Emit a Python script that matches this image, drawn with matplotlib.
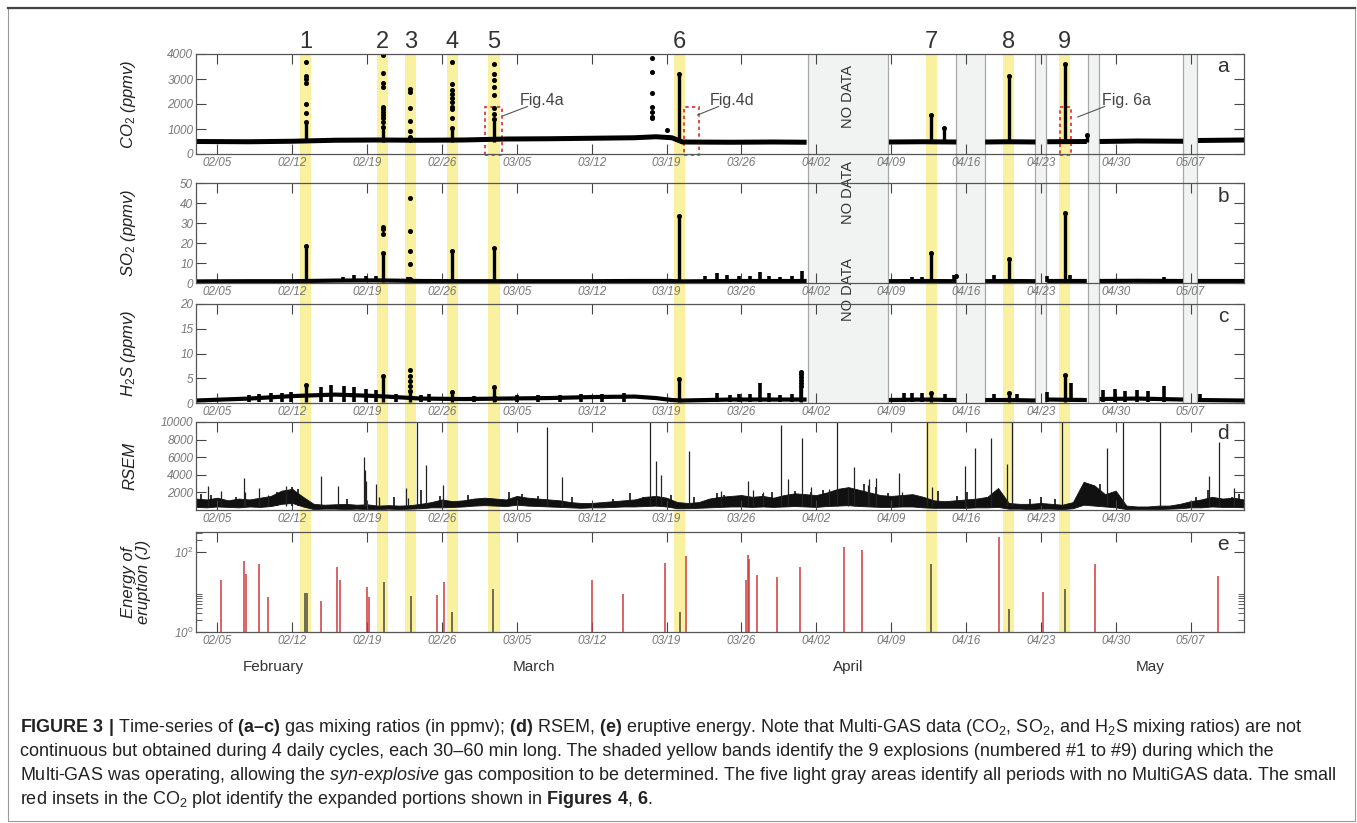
import numpy as np
import pandas as pd
import matplotlib
matplotlib.use("Agg")
import matplotlib.pyplot as plt
import matplotlib.dates as mdates
from matplotlib.patches import Rectangle
from matplotlib.lines import Line2D
from matplotlib.ticker import NullFormatter

plt.rcParams["font.family"] = ["Liberation Sans", "DejaVu Sans"]
plt.rcParams["mathtext.fontset"] = "custom"
plt.rcParams["mathtext.rm"] = "Liberation Sans"
plt.rcParams["mathtext.it"] = "Liberation Sans:italic"
plt.rcParams["mathtext.bf"] = "Liberation Sans:bold"

YEAR = 2015
nan = np.nan

# ---- data (dates as "MM/DD.fraction-of-day") ----
week_t = ["02/05", "02/12", "02/19", "02/26", "03/05", "03/12", "03/19",
          "03/26", "04/02", "04/09", "04/16", "04/23", "04/30", "05/07"]
band_t = ["02/13.28", "02/20.48", "02/23.05", "02/26.98", "03/02.87",
          "03/20.2", "04/12.74", "04/20.0", "04/25.24"]
nodata_start = ["04/01.2", "04/15.1", "04/22.5", "04/27.4", "05/06.3"]
nodata_end = ["04/08.7", "04/17.8", "04/23.5", "04/28.4", "05/07.6"]

gas_t = ["02/03", "02/08", "02/12", "02/16", "02/20", "02/24", "02/28", "03/04",
         "03/08", "03/12", "03/16", "03/18", "03/19.5", "03/20.5", "03/25", "03/29",
         "04/01.1", "04/01.2", "04/08.8", "04/12", "04/15.1", "04/15.2", "04/17.8",
         "04/20", "04/22.5", "04/22.6", "04/23.6", "04/27.3", "04/27.4", "04/28.5",
         "05/02", "05/06.3", "05/06.4", "05/07.7", "05/12"]
co2_base = [500, 490, 510, 550, 560, 550, 560, 600, 610, 630, 650, 690, 650, 480, 470,
            480, 470, nan, 480, 490, 480, nan, 480, 490, 480, nan, 490, 500, nan, 500,
            520, 510, nan, 540, 560]
so2_base = [0.8, 0.9, 0.9, 1.2, 1.3, 1.0, 0.9, 0.9, 0.9, 0.9, 1.0, 1.0, 1.0, 0.8, 1.0,
            1.0, 1.0, nan, 0.9, 1.0, 0.9, nan, 0.9, 1.0, 0.9, nan, 1.0, 1.0, nan, 1.0,
            1.1, 1.0, nan, 1.0, 1.0]
h2s_base = [0.5, 0.9, 1.4, 1.7, 1.4, 0.9, 0.8, 0.9, 1.0, 1.2, 1.3, 1.0, 0.6, 0.5, 0.7,
            0.7, 0.7, nan, 0.6, 0.7, 0.6, nan, 0.6, 0.6, 0.5, nan, 0.7, 0.6, nan, 0.8,
            0.9, 0.7, nan, 0.6, 0.5]

so2_bump_t = ["02/16.7", "02/17.8", "02/18.9", "02/19.8", "02/22.8", "02/24.8", "03/22.6",
              "03/23.7", "03/24.7", "03/25.8", "03/26.8", "03/27.7", "03/28.6", "03/29.6",
              "03/30.7", "03/31.7", "04/10.2", "04/11.0", "04/11.9", "04/14.0", "04/14.9",
              "04/18.6", "04/20.8", "04/23.6", "04/25.7", "04/28.8", "04/29.9", "05/01",
              "05/02", "05/03", "05/04.5", "05/05.7"]
so2_bump_v = [2.9, 3.9, 3.4, 3.4, 2.9, 2.2, 3.4, 5.0, 4.2, 3.4, 3.7, 5.5, 3.7, 2.9, 3.4,
              5.9, 2.2, 2.9, 2.9, 1.7, 4.2, 3.9, 1.7, 3.4, 4.2, 1.7, 2.0, 2.0, 1.8, 1.9,
              2.9, 1.7]
h2s_bump_t = ["02/08", "02/08.9", "02/10", "02/11", "02/11.9", "02/14.7", "02/15.6",
              "02/16.8", "02/17.8", "02/18.9", "02/19.8", "02/21.7", "02/24", "02/24.8",
              "03/01", "03/03", "03/05", "03/07", "03/09", "03/11", "03/13", "03/15",
              "03/23.7", "03/24.9", "03/25.8", "03/26.8", "03/27.7", "03/28.6", "03/29.6",
              "03/30.7", "03/31.6", "04/10.2", "04/11.0", "04/11.9", "04/14.0", "04/18.6",
              "04/20.8", "04/23.6", "04/25.8", "04/28.8", "04/29.9", "04/30.9", "05/02",
              "05/03", "05/04.5", "05/07.9"]
h2s_bump_v = [1.6, 1.9, 2.0, 2.0, 2.2, 3.3, 3.6, 3.4, 3.3, 2.9, 2.7, 1.8, 1.6, 1.9,
              1.4, 1.5, 1.6, 1.7, 1.7, 1.8, 1.9, 2.0, 2.0, 1.6, 1.8, 1.9, 4.1, 2.0, 1.7,
              1.8, 3.0, 2.0, 2.0, 2.0, 1.8, 1.9, 1.9, 2.2, 4.1, 2.6, 2.9, 2.5, 2.7, 2.5,
              3.4, 1.8]

# explosion / outlier columns: time, top of the dense column, scattered dots above
co2_spk_t = ["02/13.28", "02/20.48", "02/23.05", "02/26.98", "03/02.87", "03/17.6",
             "03/19.0", "03/20.2", "04/12.74", "04/13.9", "04/20.0", "04/25.24", "04/27.3"]
co2_spk_top = [1300, 1100, 700, 1050, 1400, 0, 0, 3200, 1560, 1030, 3120, 3600, 760]
co2_spk_dots = [[3700, 3120, 2990, 2830, 1990, 1630],
                [3960, 3250, 2850, 2670, 1890, 1790, 1690, 1560, 1430, 1300],
                [2590, 2490, 1850, 1330, 930],
                [3690, 2800, 2560, 2400, 2240, 2080, 1900, 1800, 1430],
                [3600, 3200, 2960, 2670, 2360, 1830, 1600],
                [3830, 3290, 2430, 1890, 1700, 1500, 1430],
                [960], [], [], [], [], [], []]
so2_spk_t = ["02/13.28", "02/20.48", "02/23.05", "02/26.98", "03/02.87", "03/20.2",
             "04/12.74", "04/20.0", "04/25.24", "04/15.1"]
so2_spk_top = [18.5, 15, 2, 16, 17.5, 33.5, 15, 12, 35, 0]
so2_spk_dots = [[], [28, 27, 24.5], [42.5, 26, 16, 9.5], [], [], [], [], [], [], [3.6]]
h2s_spk_t = ["02/13.28", "02/20.48", "02/23.05", "02/26.98", "03/02.87", "03/20.2",
             "03/31.6", "04/12.74", "04/20.0", "04/25.24"]
h2s_spk_top = [3.6, 5.5, 2.5, 2.2, 3.2, 4.9, 3.5, 2.0, 2.0, 5.6]
h2s_spk_dots = [[], [], [6.7, 5.5, 4.5, 3.5], [], [], [], [6.3, 5.8, 5.2, 4.6, 4.0],
                [], [], []]

# RSEM daily envelope, Feb 3 .. May 12
rsem_hi = [1300, 1200, 1400, 1100, 1300, 1200, 1400, 1600, 2200, 2400, 1500,
           700, 600, 650, 700, 600, 650, 500, 550, 500, 550, 700, 900, 1200, 1000, 1100,
           1300, 1400, 1300, 1200, 1600, 1400, 1300, 1200, 1100, 900, 800, 800, 900, 1000,
           1100, 1200, 1500, 1600, 1400, 900, 800, 900, 1300, 1500, 1600, 1700, 1500,
           1600, 1400, 1700, 1900,
           1800, 1700, 2000, 2400, 2600, 2300, 2000, 1700, 1600, 1700, 1800, 1500, 1100,
           1000, 1100, 1200, 1300, 1500, 2500, 800, 700, 700, 800, 700, 600, 900, 3200,
           2800, 1800, 2200,
           500, 400, 400, 500, 500, 700, 1000, 1200, 1500, 1300, 1400, 1200]
rsem_lo = [350, 300, 400, 350, 300, 400, 350, 450, 700, 800, 400,
           100, 150, 150, 100, 150, 100, 100, 150, 100, 150, 200, 300, 300, 350, 400,
           500, 550, 500, 450, 600, 500, 450, 400, 350, 300, 250, 300, 300, 350, 400,
           400, 450, 500, 400, 200, 200, 250, 300, 350, 400, 400, 350, 400, 350, 400, 450,
           400, 350, 450, 500, 550, 450, 400, 350, 350, 400, 400, 300, 250, 250, 250,
           250, 300, 300, 350, 150, 150, 100, 150, 150, 100, 200, 600, 500, 400, 300,
           100, 100, 100, 100, 150, 200, 300, 300, 400, 350, 350, 300]
rsem_spk_t = ["02/04.1", "02/05.3", "02/07.5", "02/07.6", "02/08.9", "02/09.7", "02/11.4",
              "02/14.7", "02/16.3", "02/18.7", "02/18.8", "02/18.9", "02/19.8", "02/20.1",
              "02/22.6", "02/22.8", "02/23.7", "02/24.5", "02/26.1", "03/07.8", "03/09.2",
              "03/17.5", "03/18.0", "03/18.5", "03/21.1", "03/24.1", "03/26.6", "03/27.1",
              "03/28.0", "03/29.7", "03/30.4", "03/31.7", "04/01.5", "04/03.2", "04/03.9",
              "04/05.0", "04/05.5", "04/06.8", "04/06.9", "04/07.6", "04/09.7", "04/10.0",
              "04/12.4", "04/12.8", "04/15.9", "04/16.8", "04/18.3", "04/19.8", "04/20.3",
              "04/25.0", "04/29.2", "04/30.7", "05/04.1", "05/08.7", "05/09.7", "05/11.1"]
rsem_spk_v = [2700, 2200, 3650, 2100, 2500, 1700, 2700, 3850, 2700, 6000, 4600, 3300,
              2900, 1500, 2500, 1350, 10000, 5100, 2800, 9400, 3700, 10000, 5600, 4000,
              6700, 2200, 3300, 2300, 2000, 9700, 3500, 8150, 2600, 2400, 10000, 2500,
              4900, 2800, 3500, 3650, 4150, 2000, 10000, 2600, 5000, 7000, 8150, 5200,
              10000, 10000, 7000, 10000, 10000, 3850, 7700, 2500]
# smaller RSEM spikes riding on the noise
rsem_small_t = ["02/03.5", "02/04.4", "02/06.7", "02/10.2", "02/10.6", "02/12.0",
                "02/12.5", "02/17.1", "02/21.5", "02/24.0", "02/25.8", "02/28.4",
                "03/04.3", "03/05.5", "03/07.0", "03/10.2", "03/14.0", "03/15.6",
                "03/16.8", "03/19.4", "03/21.6", "03/23.7", "03/24.4", "03/25.2",
                "03/28.0", "03/28.9", "03/31.0", "04/01.5", "04/02.6", "04/04.3",
                "04/06.5", "04/07.6", "04/08.7", "04/10.7", "04/13.4", "04/15.2",
                "04/16.1", "04/22.0", "04/23.0", "04/24.3", "04/28.5", "04/29.8",
                "05/07.5", "05/08.6", "05/10.9", "05/11.5"]
rsem_small_v = [1800, 1700, 1500, 1600, 2000, 2600, 2400, 1200, 1500, 2300, 1600, 1700,
                2100, 1800, 1600, 1500, 1300, 1900, 1500, 1700, 1500, 1900, 1700, 1500,
                1800, 2000, 2200, 2000, 2300, 2100, 2900, 2600, 1900, 1700, 2200, 1600,
                2000, 1300, 1500, 1200, 3000, 2000, 1500, 2300, 1500, 1800]

en_red_t = ["02/05.3", "02/07.5", "02/07.7", "02/08.9", "02/09.7", "02/14.7", "02/16.2",
            "02/16.45", "02/19.0", "02/19.2", "02/25.5", "02/26.2", "03/12.0", "03/14.9",
            "03/18.9", "03/20.8", "03/26.4", "03/26.6", "03/26.7", "03/27.5", "03/29.35",
            "03/31.5", "04/04.6", "04/06.3", "04/19.05", "04/23.2", "04/28.07", "05/09.6"]
en_red_v = [20, 59, 29, 49, 7.6, 6.1, 42, 20, 13, 7.4, 8.4, 18, 20, 8.9, 53, 78, 20, 83,
            68, 27, 24, 42, 133, 110, 235, 10, 49.5, 25]
en_dark_t = ["02/13.2", "02/13.35", "02/20.6", "02/23.1", "02/26.9", "03/02.8", "03/20.3",
             "04/12.7", "04/20.0", "04/25.25"]
en_dark_v = [9.6, 9.6, 18, 8, 3.1, 11.9, 3.1, 51, 3.8, 11.6]


def when(s):
    md, _, frac = s.partition(".")
    t = pd.Timestamp(f"{YEAR}/{md}")
    if frac:
        t += pd.Timedelta(days=float("0." + frac))
    return mdates.date2num(t)


def nums(lst):
    return np.array([when(s) for s in lst])


W, H = 1357, 823
X0, X1 = 196, 1244
fig = plt.figure(figsize=(W / 100, H / 100), dpi=100)
XLIM = (when("02/03"), when("05/12"))
GREY = "#777777"


def axes_px(top, bot):
    return fig.add_axes([X0 / W, 1 - bot / H, (X1 - X0) / W, (bot - top) / H])


# background: yellow explosion bands through all panels
bg = axes_px(54, 632)
bg.set_xlim(XLIM); bg.set_ylim(0, 1); bg.axis("off")
for i, c in enumerate(nums(band_t)):
    bg.axvspan(c - 0.52, c + 0.52, color="#f9f0a0", lw=0)
    bg.text(c, 1.021, str(i + 1), transform=bg.get_xaxis_transform(), ha="center",
            va="center", fontsize=17, color="#333333")

# background: no-data areas through the gas panels
gbg = axes_px(54, 403)
gbg.set_xlim(XLIM); gbg.set_ylim(0, 1); gbg.axis("off")
for s, e in zip(nums(nodata_start), nums(nodata_end)):
    gbg.axvspan(s, e, color="#f0f3f2", lw=0)
    gbg.axvline(s, color="#a8a8a8", lw=0.9)
    gbg.axvline(e, color="#a8a8a8", lw=0.9)
mid = (when(nodata_start[0]) + when(nodata_end[0])) / 2
for y in [0.877, 0.602, 0.324]:
    gbg.text(mid, y, "NO DATA", rotation=90, ha="center", va="center", fontsize=10.5,
             color="#333333")


def frame(ax, ylim, yticks, ylabels, letter, log=False):
    ax.set_facecolor("none")
    ax.set_xlim(XLIM)
    if log:
        ax.set_yscale("log")
    ax.set_ylim(*ylim)
    wk = nums(week_t)
    ax.set_xticks(wk, [mdates.num2date(v).strftime("%m/%d") for v in wk],
                  fontstyle="italic", fontsize=8.5, color=GREY)
    ax.set_yticks(yticks, ylabels, fontstyle="italic", fontsize=8.5, color=GREY)
    ax.tick_params(axis="both", direction="in", length=7, width=0.8, color="#444444")
    ax.tick_params(axis="x", top=True, bottom=True, pad=2)
    ax.tick_params(axis="y", left=True, right=True, pad=2)
    for sp in ax.spines.values():
        sp.set_color("#555555"); sp.set_linewidth(0.9)
    ax.text(0.98, 0.87, letter, transform=ax.transAxes, ha="center", va="center",
            fontsize=15, color="#333333")


def gas(ax, base, lw, floor, bump_t, bump_v, spk_t, spk_top, spk_dots):
    gx = nums(gas_t)
    ax.plot(gx, base, color="k", lw=lw, solid_capstyle="butt")
    if bump_t:
        ax.vlines(nums(bump_t), floor, bump_v, color="k", lw=2.6)
    sx = nums(spk_t)
    for x, top, dots in zip(sx, spk_top, spk_dots):
        if top > floor:
            ax.vlines(x, floor, top, color="k", lw=2.4)
            ax.plot([x], [top], "o", ms=2.6, color="k")
        if dots:
            ax.plot([x] * len(dots), dots, "o", ms=2.6, color="k")


# (a) CO2
axa = axes_px(54, 154)
frame(axa, (0, 4000), [0, 1000, 2000, 3000, 4000],
      ["0", "1000", "2000", "3000", "4000"], "a")
gas(axa, co2_base, 3.6, 500, [], [], co2_spk_t, co2_spk_top, co2_spk_dots)
red = "#e02a2a"
insets = [("Fig.4a", "03/02.0", "03/03.66", "03/05.25", "03/03.66", 1520, "03/06.0"),
          ("Fig.4d", "03/20.6", "03/22.0", "03/23.0", "03/21.9", 1560, "03/23.87"),
          ("Fig. 6a", "04/24.8", "04/25.8", "04/28.7", "04/26.45", 1480, "04/28.97")]
for name, x0, x1, tx, lx0, ly0, lx1 in insets:
    axa.add_patch(Rectangle((when(x0), -30), when(x1) - when(x0), 1910, fill=False,
                            ec=red, lw=1.2, ls=(0, (2, 2)), clip_on=False))
    axa.text(when(tx), 2160, name, fontsize=11.5, color="#444444", ha="left",
             va="center")
    axa.plot([when(lx0), when(lx1)], [ly0, 1900], color="#555555", lw=0.8)

# (b) SO2
axb = axes_px(183, 283)
frame(axb, (0, 50), [0, 10, 20, 30, 40, 50], ["0", "10", "20", "30", "40", "50"], "b")
gas(axb, so2_base, 3.0, 0.3, so2_bump_t, so2_bump_v, so2_spk_t, so2_spk_top,
    so2_spk_dots)

# (c) H2S
axc = axes_px(304, 403)
frame(axc, (0, 20), [0, 5, 10, 15, 20], ["0", "5", "10", "15", "20"], "c")
gas(axc, h2s_base, 3.0, 0.2, h2s_bump_t, h2s_bump_v, h2s_spk_t, h2s_spk_top,
    h2s_spk_dots)

# (d) RSEM
axd = axes_px(422, 510)
frame(axd, (0, 10000), [2000, 4000, 6000, 8000, 10000],
      ["2000", "4000", "6000", "8000", "10000"], "d")
rx = when("02/03") + np.arange(len(rsem_hi))
axd.fill_between(rx, rsem_lo, rsem_hi, color="#111111", lw=0.6)
axd.vlines(nums(rsem_small_t), 500, rsem_small_v, color="#111111", lw=1.2)
axd.vlines(nums(rsem_spk_t), 500, rsem_spk_v, color="#222222", lw=0.9)

# (e) energy of eruption
axe = axes_px(532, 632)
frame(axe, (1, 10 ** 2.5), [1, 100], ["10$^0$", "10$^2$"], "e", log=True)
axe.set_yticks([2, 3, 4, 5, 6, 7, 8, 9, 200, 300], minor=True)
axe.yaxis.set_minor_formatter(NullFormatter())
axe.tick_params(axis="y", which="minor", direction="in", length=4, left=True,
                right=True, color="#444444")
axe.vlines(nums(en_red_t), 1, en_red_v, color="#d03a3a", lw=1.1)
axe.vlines(nums(en_dark_t), 1, en_dark_v, color="#4a4a3a", lw=1.1)

# axis titles
ylabs = [("CO$_2$ (ppmv)", 128, 104), ("SO$_2$ (ppmv)", 128, 233),
         ("H$_2$S (ppmv)", 128, 353), ("RSEM", 130, 466),
         ("Energy of\neruption (J)", 136, 582)]
for txt, x, y in ylabs:
    fig.text(x / W, 1 - y / H, txt, rotation=90, ha="center", va="center",
             fontsize=12, style="italic", color="#222222", linespacing=1.0)

for m, x in [("February", 273), ("March", 534), ("April", 848), ("May", 1150)]:
    fig.text(x / W, 1 - 667 / H, m, ha="center", va="center", fontsize=11,
             color="#333333")

# caption
cap = [r"$\mathbf{FIGURE\ 3\ |}$ Time-series of $\mathbf{(a–c)}$ gas mixing ratios "
       r"(in ppmv); $\mathbf{(d)}$ RSEM, $\mathbf{(e)}$ eruptive energy. Note that "
       r"Multi-GAS data (CO$_2$, SO$_2$, and H$_2$S mixing ratios) are not",
       "continuous but obtained during 4 daily cycles, each 30–60 min long. The shaded "
       "yellow bands identify the 9 explosions (numbered #1 to #9) during which the",
       r"Multi-GAS was operating, allowing the $\mathit{syn}$-$\mathit{explosive}$ gas "
       r"composition to be determined. The five light gray areas identify all periods "
       r"with no MultiGAS data. The small",
       r"red insets in the CO$_2$ plot identify the expanded portions shown in "
       r"$\mathbf{Figures\ 4}$, $\mathbf{6}$."]
for i, line in enumerate(cap):
    fig.text(20 / W, 1 - (727 + 24 * i) / H, line, ha="left", va="center",
             fontsize=13, color="#222222")

# outer frame
fig.patches.append(Rectangle((8 / W, 1 - 821 / H), 1347 / W, 813 / H, fill=False,
                             ec="#9a9a9a", lw=0.8, transform=fig.transFigure))
fig.lines.append(Line2D([8 / W, 1355 / W], [1 - 8 / H, 1 - 8 / H], color="#444444",
                        lw=1.6, transform=fig.transFigure))

fig.savefig("out.png", dpi=100)
